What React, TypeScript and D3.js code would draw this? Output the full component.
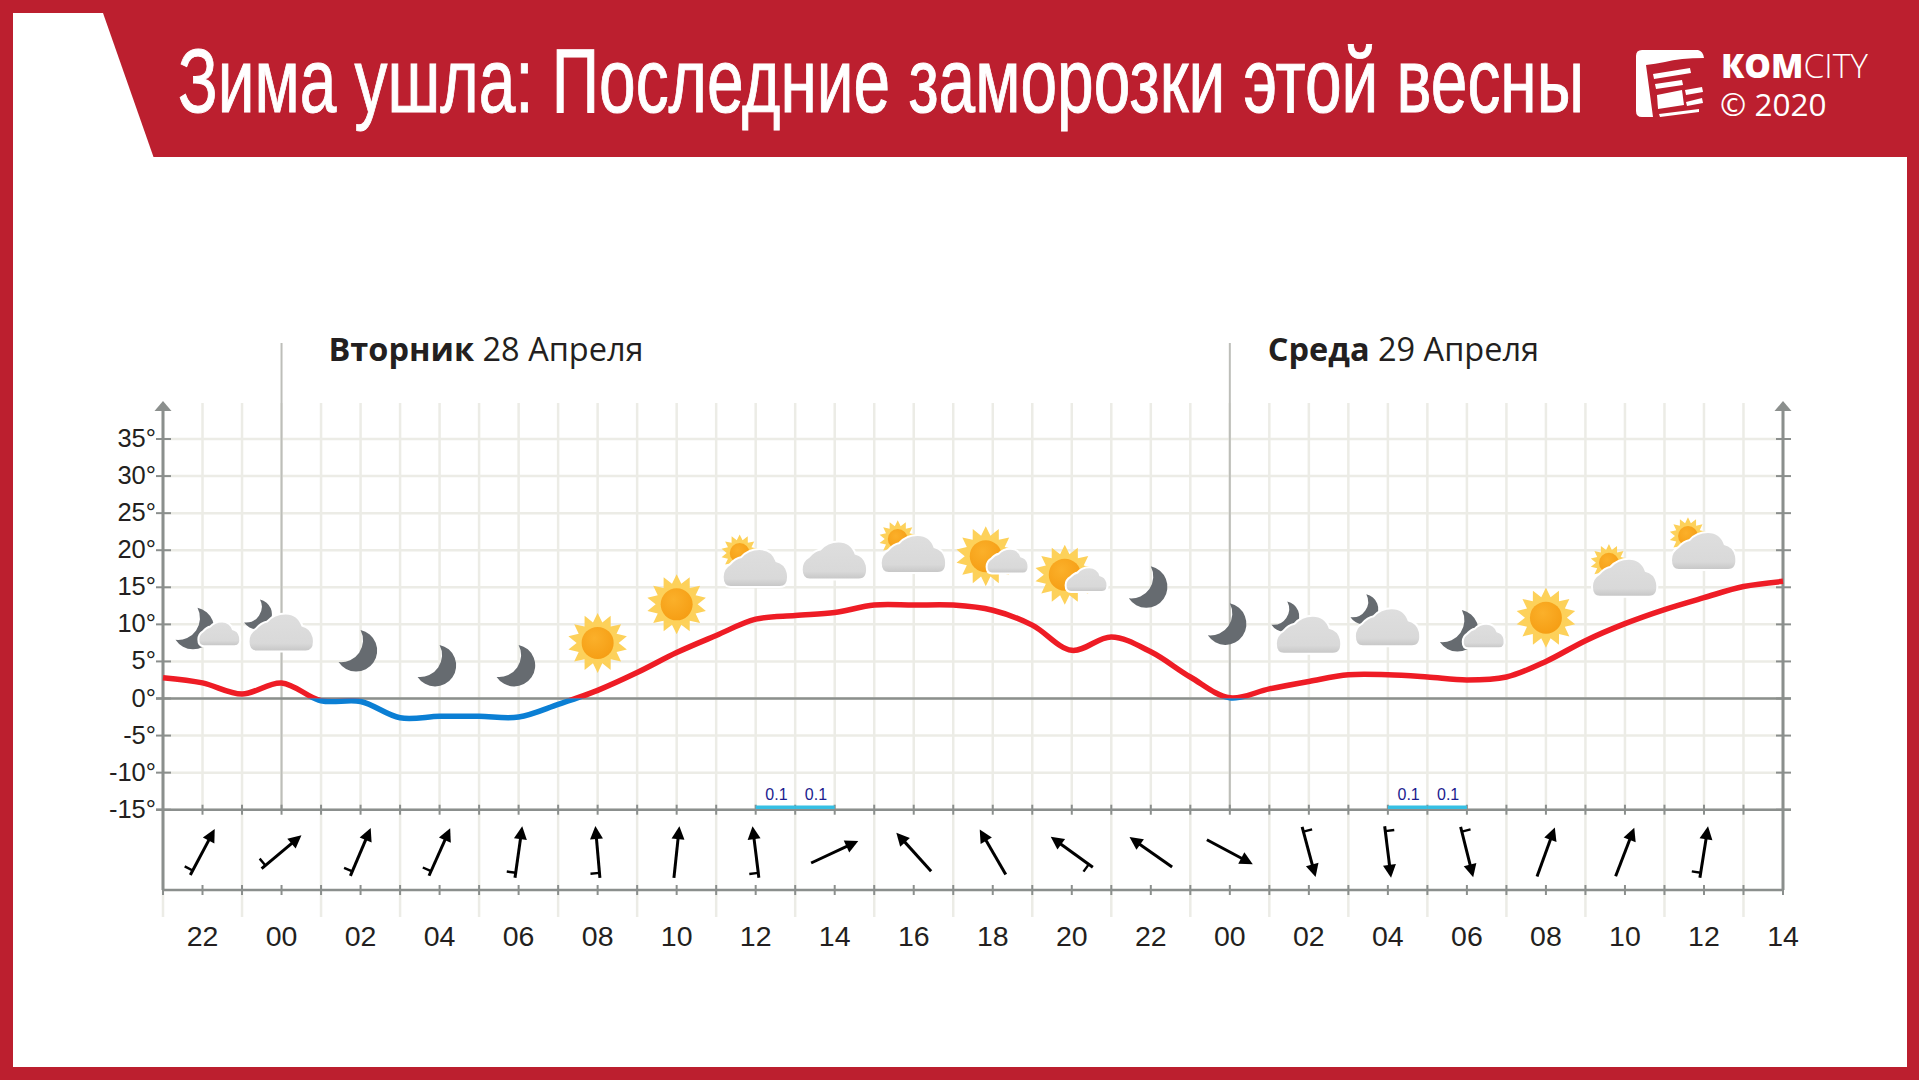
import * as d3 from "d3";
import { useLayoutEffect, useRef } from "react";

const width = 1919;
const height = 1080;

// one value per hour, starting at 21:00 on Monday
const temps = [
  2.8, 2.1, 0.6, 2.1, -0.3, -0.4, -2.6, -2.4, -2.4, -2.5, -0.8, 1.1, 3.5, 6.2, 8.5, 10.7,
  11.2, 11.6, 12.6, 12.6, 12.6, 11.9, 9.9, 6.5, 8.3, 6.3, 2.9, 0.1, 1.3, 2.3, 3.2, 3.2,
  2.9, 2.5, 2.9, 5.0, 7.8, 10.1, 12.0, 13.6, 15.1, 15.8,
];
const yTicks = [35, 30, 25, 20, 15, 10, 5, 0, -5, -10, -15];
const hourLabels = [
  "22", "00", "02", "04", "06", "08", "10", "12", "14", "16", "18", "20", "22", "00", "02", "04",
  "06", "08", "10", "12", "14",
];
const dayStarts = [3, 27];
const dayNames = ["Вторник", "Среда"];
const dayDates = [" 28 Апреля", " 29 Апреля"];
const precipHours = [15, 16, 31, 32];
const precipValues = ["0.1", "0.1", "0.1", "0.1"];
// heading in degrees clockwise from north
const windHeadings = [
  28, 50, 23, 24, 8, -5, 6, -7, 65, -42, -30, -54, -55, 118, 165, 173, 166, 20, 21, 9,
];
const windBarbs = [
  true, true, true, true, true, true, false, true, false, false, false, true, false, false, true,
  true, true, false, false, true,
];
type IconKind = "moon" | "sun" | "cloud" | "moonSmallCloud" | "moonBigCloud" | "sunSmallCloud" | "sunBigCloud";
const iconKinds: IconKind[] = [
  "moonSmallCloud", "moonBigCloud", "moon", "moon", "moon", "sun", "sun", "sunBigCloud", "cloud",
  "sunBigCloud", "sunSmallCloud", "sunSmallCloud", "moon", "moon", "moonBigCloud", "moonBigCloud",
  "moonSmallCloud", "sun", "sunBigCloud", "sunBigCloud",
];
const iconLevels = [
  9.4, 8.9, 6.4, 4.4, 4.4, 7.5, 12.7, 17.6, 18.6, 19.5, 19.2, 16.7, 15.0, 10.0, 8.6, 9.6, 9.1,
  10.9, 16.3, 19.9,
];

const x = d3.scaleLinear().domain([0, 41]).range([163, 1783]);
const y = d3.scaleLinear().domain([0, 35]).range([698.5, 439]);
const plotTop = 403;
const axisBottom = 890;
const gridBottom = 917;
const floorY = y(-15);

const red = "#bc1f2f";
const axisColor = "#8b8f8d";
const gridColor = "#ecece6";
const narrow = "'Liberation Sans Narrow', 'Liberation Sans', sans-serif";
const helvetica = "'Liberation Sans', sans-serif";
const titleWidth = 1406;

const tempLine = d3
  .line<number>()
  .x((_, i) => x(i))
  .y((d) => y(d))
  .curve(d3.curveCatmullRom.alpha(0.5));

const sunPoints = d3.range(28).map((i): [number, number] => [
  (i * Math.PI) / 14,
  i % 2 === 0 ? 30 : 21,
]);
const sunRays = d3.lineRadial().curve(d3.curveLinearClosed)(sunPoints) ?? "";

const cloudPath =
  "M-25 18 Q-32 18 -32 9 Q-32 1 -25 -3 Q-20 -9 -14 -10 Q-7 -18 4 -18 Q16 -18 20 -6 Q29 -4 31 5 Q33 18 24 18 Z";

function Moon({ dx = 0, dy = 0, k = 1 }: { dx?: number; dy?: number; k?: number }) {
  return (
    <path
      transform={`translate(${dx},${dy}) scale(${k})`}
      d="M2 -21 A21 21 0 1 1 -20 11 A22 22 0 0 0 2 -21 Z"
      fill="#666b70"
    />
  );
}

function Sun({ dx = 0, dy = 0, k = 1 }: { dx?: number; dy?: number; k?: number }) {
  return (
    <g transform={`translate(${dx},${dy}) scale(${k})`}>
      <path d={sunRays} fill="#fdd15a" />
      <circle r={20} fill="#fdd15a" />
      <circle r={16} fill="url(#sunDisc)" />
    </g>
  );
}

function Cloud({ dx = 0, dy = 0, k = 1 }: { dx?: number; dy?: number; k?: number }) {
  return (
    <g transform={`translate(${dx},${dy}) scale(${k})`}>
      <path d={cloudPath} fill="#fff" stroke="#fff" strokeWidth={4 / k} />
      <path d={cloudPath} fill="url(#cloudFill)" />
    </g>
  );
}

function WeatherIcon({ kind }: { kind: IconKind }) {
  if (kind === "moon") return <Moon dx={-2} />;
  if (kind === "sun") return <Sun />;
  if (kind === "cloud") return <Cloud />;
  if (kind === "moonSmallCloud")
    return (
      <>
        <Moon dx={-7} />
        <Cloud dx={17} dy={5} k={0.63} />
      </>
    );
  if (kind === "moonBigCloud")
    return (
      <>
        <Moon dx={-23} dy={-18} k={0.72} />
        <Cloud />
      </>
    );
  if (kind === "sunSmallCloud")
    return (
      <>
        <Sun dx={-7} />
        <Cloud dx={15} dy={5} k={0.63} />
      </>
    );
  return (
    <>
      <Sun dx={-16} dy={-15} k={0.62} />
      <Cloud />
    </>
  );
}

function WindArrow({ heading, barb }: { heading: number; barb: boolean }) {
  const half = 26;
  return (
    <g transform={`rotate(${heading})`}>
      <line y1={half} y2={-half + 8} stroke="#000" strokeWidth={3} />
      <path d={`M0 ${-half} L6.5 ${-half + 13} L-6.5 ${-half + 13} Z`} fill="#000" />
      {barb && <line x1={0} y1={half - 5} x2={-9} y2={half - 5} stroke="#000" strokeWidth={2.4} />}
    </g>
  );
}

export default function App() {
  const hours = d3.range(0, 42);
  const linePath = tempLine(temps) ?? "";
  const titleRef = useRef<SVGTextElement | null>(null);

  // squeeze the title to the width it has in the layout
  useLayoutEffect(() => {
    const el = titleRef.current;
    if (!el) return;
    const k = titleWidth / el.getComputedTextLength();
    el.setAttribute("transform", `translate(178,112) scale(${k},1)`);
  }, []);

  return (
    <svg
      width={width}
      height={height}
      viewBox={`0 0 ${width} ${height}`}
      style={{ position: "absolute", left: 0, top: 0, display: "block" }}
    >
      <defs>
        <radialGradient id="sunDisc" cx="40%" cy="35%" r="75%">
          <stop offset="0%" stopColor="#fbb02a" />
          <stop offset="100%" stopColor="#f59c12" />
        </radialGradient>
        <linearGradient id="cloudFill" x1="0" x2="0" y1="0" y2="1">
          <stop offset="0%" stopColor="#dedede" />
          <stop offset="80%" stopColor="#d9d9d9" />
          <stop offset="100%" stopColor="#c8c8c8" />
        </linearGradient>
        <clipPath id="above">
          <rect x={0} y={0} width={width} height={y(0)} />
        </clipPath>
        <clipPath id="below">
          <rect x={0} y={y(0)} width={width} height={height - y(0)} />
        </clipPath>
      </defs>

      {/* frame and header */}
      <rect width={width} height={height} fill={red} />
      <rect x={13} y={13} width={1894} height={1054} fill="#fff" />
      <path d="M103 13 L1907 13 L1907 157 L153.5 157 Z" fill={red} />
      <text
        ref={titleRef}
        transform="translate(178,112)"
        fill="#fff"
        stroke="#fff"
        strokeWidth={1}
        fontFamily={narrow}
        fontSize={90}
      >
        Зима ушла: Последние заморозки этой весны
      </text>

      {/* logo */}
      <g fill="#fff">
        <path d="M1642 50 L1698 50 Q1703 51 1704 58 Q1680 58 1665 62 Q1655 64 1646 65 L1653 117 L1642 117 Q1636 117 1636 111 L1636 56 Q1636 50 1642 50 Z" />
        <path d="M1653 74 L1690 68 L1691 73 L1654 79 Z" />
        <path d="M1655 84 L1682 80 L1683 85 L1656 89 Z" />
        <path d="M1657 95 L1682 90 L1684 105 L1658 109 Z" />
        <path d="M1685 90 L1702 87 L1703 92 L1686 95 Z" />
        <path d="M1686 102 L1702 98 L1703 103 L1687 106 Z" />
        <path d="M1659 114 L1699 109 L1699 112 L1660 117 Z" />
      </g>
      <text x={1721} y={78} fill="#fff" fontFamily="'Open Sans', sans-serif" fontSize={33.5}>
        <tspan fontWeight={800}>КОМ</tspan>
        <tspan fontWeight={300}>CITY</tspan>
      </text>
      <text x={1720} y={116} fill="#fff" fontFamily="'Open Sans', sans-serif" fontSize={31.5}>
        © 2020
      </text>

      {/* grid */}
      {hours.map((h) => (
        <line
          key={`v-${h}`}
          x1={x(h)}
          x2={x(h)}
          y1={plotTop}
          y2={h % 2 === 0 ? gridBottom : floorY}
          stroke={gridColor}
          strokeWidth={2.5}
        />
      ))}
      {yTicks.map((t) => (
        <line key={`h-${t}`} x1={x(0)} x2={x(41)} y1={y(t)} y2={y(t)} stroke={gridColor} strokeWidth={2.5} />
      ))}

      {/* day separators */}
      {dayStarts.map((d) => (
        <line key={`day-${d}`} x1={x(d)} x2={x(d)} y1={343} y2={floorY} stroke="#bdbeb9" strokeWidth={2} />
      ))}
      {dayStarts.map((d, i) => (
        <text key={dayNames[i]} x={x(d) + (i === 0 ? 47 : 38)} y={361} fill="#231f20" fontFamily="'Open Sans', sans-serif" fontSize={32.5}>
          <tspan fontWeight={700}>{dayNames[i]}</tspan>
          <tspan>{dayDates[i]}</tspan>
        </text>
      ))}

      {/* axes */}
      <g stroke={axisColor} fill="none">
        <line x1={x(0)} x2={x(0)} y1={410} y2={axisBottom} strokeWidth={3} />
        <line x1={x(41)} x2={x(41)} y1={410} y2={axisBottom} strokeWidth={3} />
        <line x1={x(0) - 7} x2={x(41) + 8} y1={y(0)} y2={y(0)} strokeWidth={2.5} />
        <line x1={x(0) - 7} x2={x(41) + 8} y1={floorY} y2={floorY} strokeWidth={2.5} />
        <line x1={x(0)} x2={x(41)} y1={axisBottom} y2={axisBottom} strokeWidth={2.5} />
        {yTicks.map((t) => (
          <g key={`yt-${t}`} strokeWidth={2}>
            <line x1={x(0) - 7} x2={x(0) + 8} y1={y(t)} y2={y(t)} />
            <line x1={x(41) - 7} x2={x(41) + 8} y1={y(t)} y2={y(t)} />
          </g>
        ))}
        {hours.map((h) => (
          <g key={`xt-${h}`} strokeWidth={2}>
            <line x1={x(h)} x2={x(h)} y1={floorY - 5} y2={floorY + 5} />
            <line x1={x(h)} x2={x(h)} y1={axisBottom - 5} y2={axisBottom + 5} />
          </g>
        ))}
      </g>
      {[0, 41].map((h) => (
        <path key={`arrow-${h}`} d={`M${x(h)} 401 L${x(h) + 8.5} 411 L${x(h) - 8.5} 411 Z`} fill={axisColor} />
      ))}
      {yTicks.map((t) => (
        <text key={`yl-${t}`} x={156} y={y(t) + 8} textAnchor="end" fill="#231f20" fontFamily={helvetica} fontSize={25.5}>
          {`${t}°`}
        </text>
      ))}
      {hourLabels.map((label, i) => (
        <text key={`xl-${i}`} x={x(1 + i * 2)} y={946} textAnchor="middle" fill="#231f20" fontFamily={helvetica} fontSize={28.5}>
          {label}
        </text>
      ))}

      {/* precipitation */}
      {precipHours.map((h, i) => (
        <g key={`p-${h}`}>
          <rect x={x(h)} y={805.5} width={x(h + 1) - x(h)} height={3.5} fill="#36bfe3" />
          <text x={(x(h) + x(h + 1)) / 2 + 1} y={800} textAnchor="middle" fill="#1c1c8e" fontFamily={helvetica} fontSize={16}>
            {precipValues[i]}
          </text>
        </g>
      ))}

      {/* temperature */}
      <path d={linePath} fill="none" stroke="#ee1c25" strokeWidth={5.5} clipPath="url(#above)" />
      <path d={linePath} fill="none" stroke="#0b7fd4" strokeWidth={5.5} clipPath="url(#below)" />

      {/* weather icons */}
      {iconKinds.map((kind, i) => (
        <g key={`icon-${i}`} transform={`translate(${x(1 + i * 2)},${y(iconLevels[i])})`}>
          <WeatherIcon kind={kind} />
        </g>
      ))}

      {/* wind */}
      {windHeadings.map((heading, i) => (
        <g key={`wind-${i}`} transform={`translate(${x(1 + i * 2)},852)`}>
          <WindArrow heading={heading} barb={windBarbs[i]} />
        </g>
      ))}
    </svg>
  );
}
